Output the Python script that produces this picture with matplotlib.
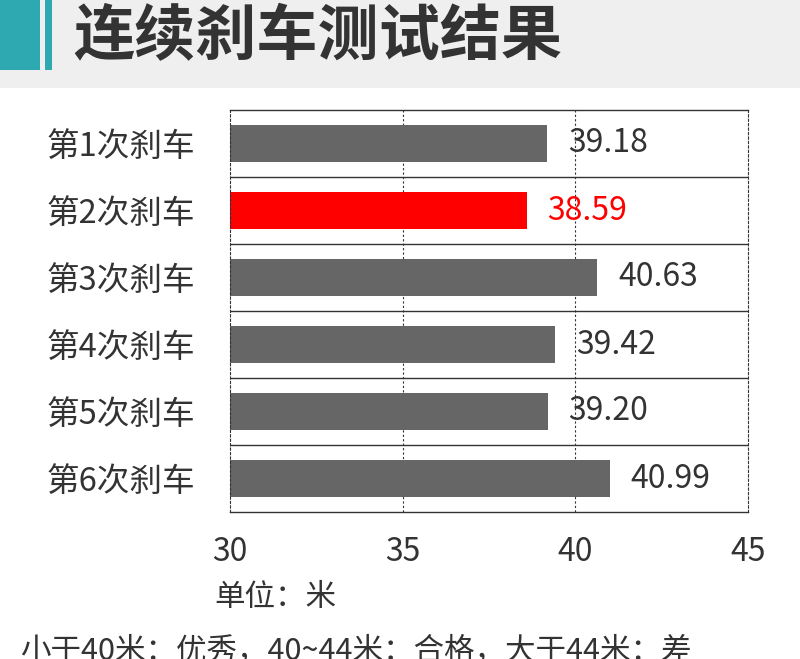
import matplotlib
matplotlib.use("Agg")
import matplotlib.pyplot as plt
from matplotlib.patches import Rectangle

plt.rcParams['font.family'] = ['Noto Sans CJK SC', 'DejaVu Sans']

categories = ["第1次刹车", "第2次刹车", "第3次刹车", "第4次刹车", "第5次刹车", "第6次刹车"]
values = [39.18, 38.59, 40.63, 39.42, 39.20, 40.99]
highlight = [False, True, False, False, False, False]
xticks = [30, 35, 40, 45]
title = "连续刹车测试结果"
unit_text = "单位：米"
note_text = "小于40米：优秀，40~44米：合格，大于44米：差"

W, H = 800, 659
fig = plt.figure(figsize=(W / 100, H / 100), dpi=100)
fig.patch.set_facecolor("white")

# title band
fig.patches.append(Rectangle((0, 1 - 88 / H), 1, 88 / H, transform=fig.transFigure,
                             facecolor="#efefef", edgecolor="none", zorder=0))
fig.patches.append(Rectangle((0, 1 - 70 / H), 40 / W, 70 / H, transform=fig.transFigure,
                             facecolor="#2fa9b1", edgecolor="none", zorder=1))
fig.patches.append(Rectangle((45 / W, 1 - 70 / H), 7 / W, 70 / H, transform=fig.transFigure,
                             facecolor="#2fa9b1", edgecolor="none", zorder=1))
fig.text(73 / W, 1 - 37 / H, title, fontsize=44, fontweight="bold", color="#333333",
         ha="left", va="center")

ax = fig.add_axes([230 / W, 1 - 512 / H, 518 / W, 402 / H])
n = len(categories)
ypos = list(range(n))
colors = ["#ff0000" if h else "#666666" for h in highlight]
ax.barh(ypos, values, left=0, height=0.54, color=colors, zorder=2)
ax.set_xlim(xticks[0], xticks[-1])
ax.set_ylim(n - 0.5, -0.5)

# row separators
for k in range(n - 1):
    ax.axhline(k + 0.5, color="#333333", lw=1.0, zorder=3)
for xv in xticks[1:-1]:
    ax.axvline(xv, color="#333333", lw=0.8, ls=(0, (2, 2)), zorder=1)

for side in ["top", "bottom"]:
    ax.spines[side].set_color("#333333")
    ax.spines[side].set_linewidth(1.0)
for side in ["left", "right"]:
    ax.spines[side].set_color("#333333")
    ax.spines[side].set_linewidth(0.8)
    ax.spines[side].set_linestyle((0, (2, 2)))

ax.set_xticks(xticks)
ax.set_xticklabels([str(t) for t in xticks])
ax.set_yticks(ypos)
ax.set_yticklabels(categories)
ax.tick_params(axis="x", length=0, pad=17, labelsize=23, labelcolor="#333333")
ax.tick_params(axis="y", length=0, pad=25, labelsize=23.5, labelcolor="#333333")

for i, v in enumerate(values):
    ax.annotate(f"{v:.2f}", xy=(v, i), xytext=(15, 0), textcoords="offset points",
                ha="left", va="center", fontsize=23,
                color="#ff0000" if highlight[i] else "#333333")

fig.text(214 / W, 1 - 597 / H, unit_text, fontsize=22, color="#333333", ha="left", va="center")
fig.text(20 / W, 1 - 636 / H, note_text, fontsize=22, color="#333333", ha="left", va="top")

fig.savefig("out.png", dpi=100)
